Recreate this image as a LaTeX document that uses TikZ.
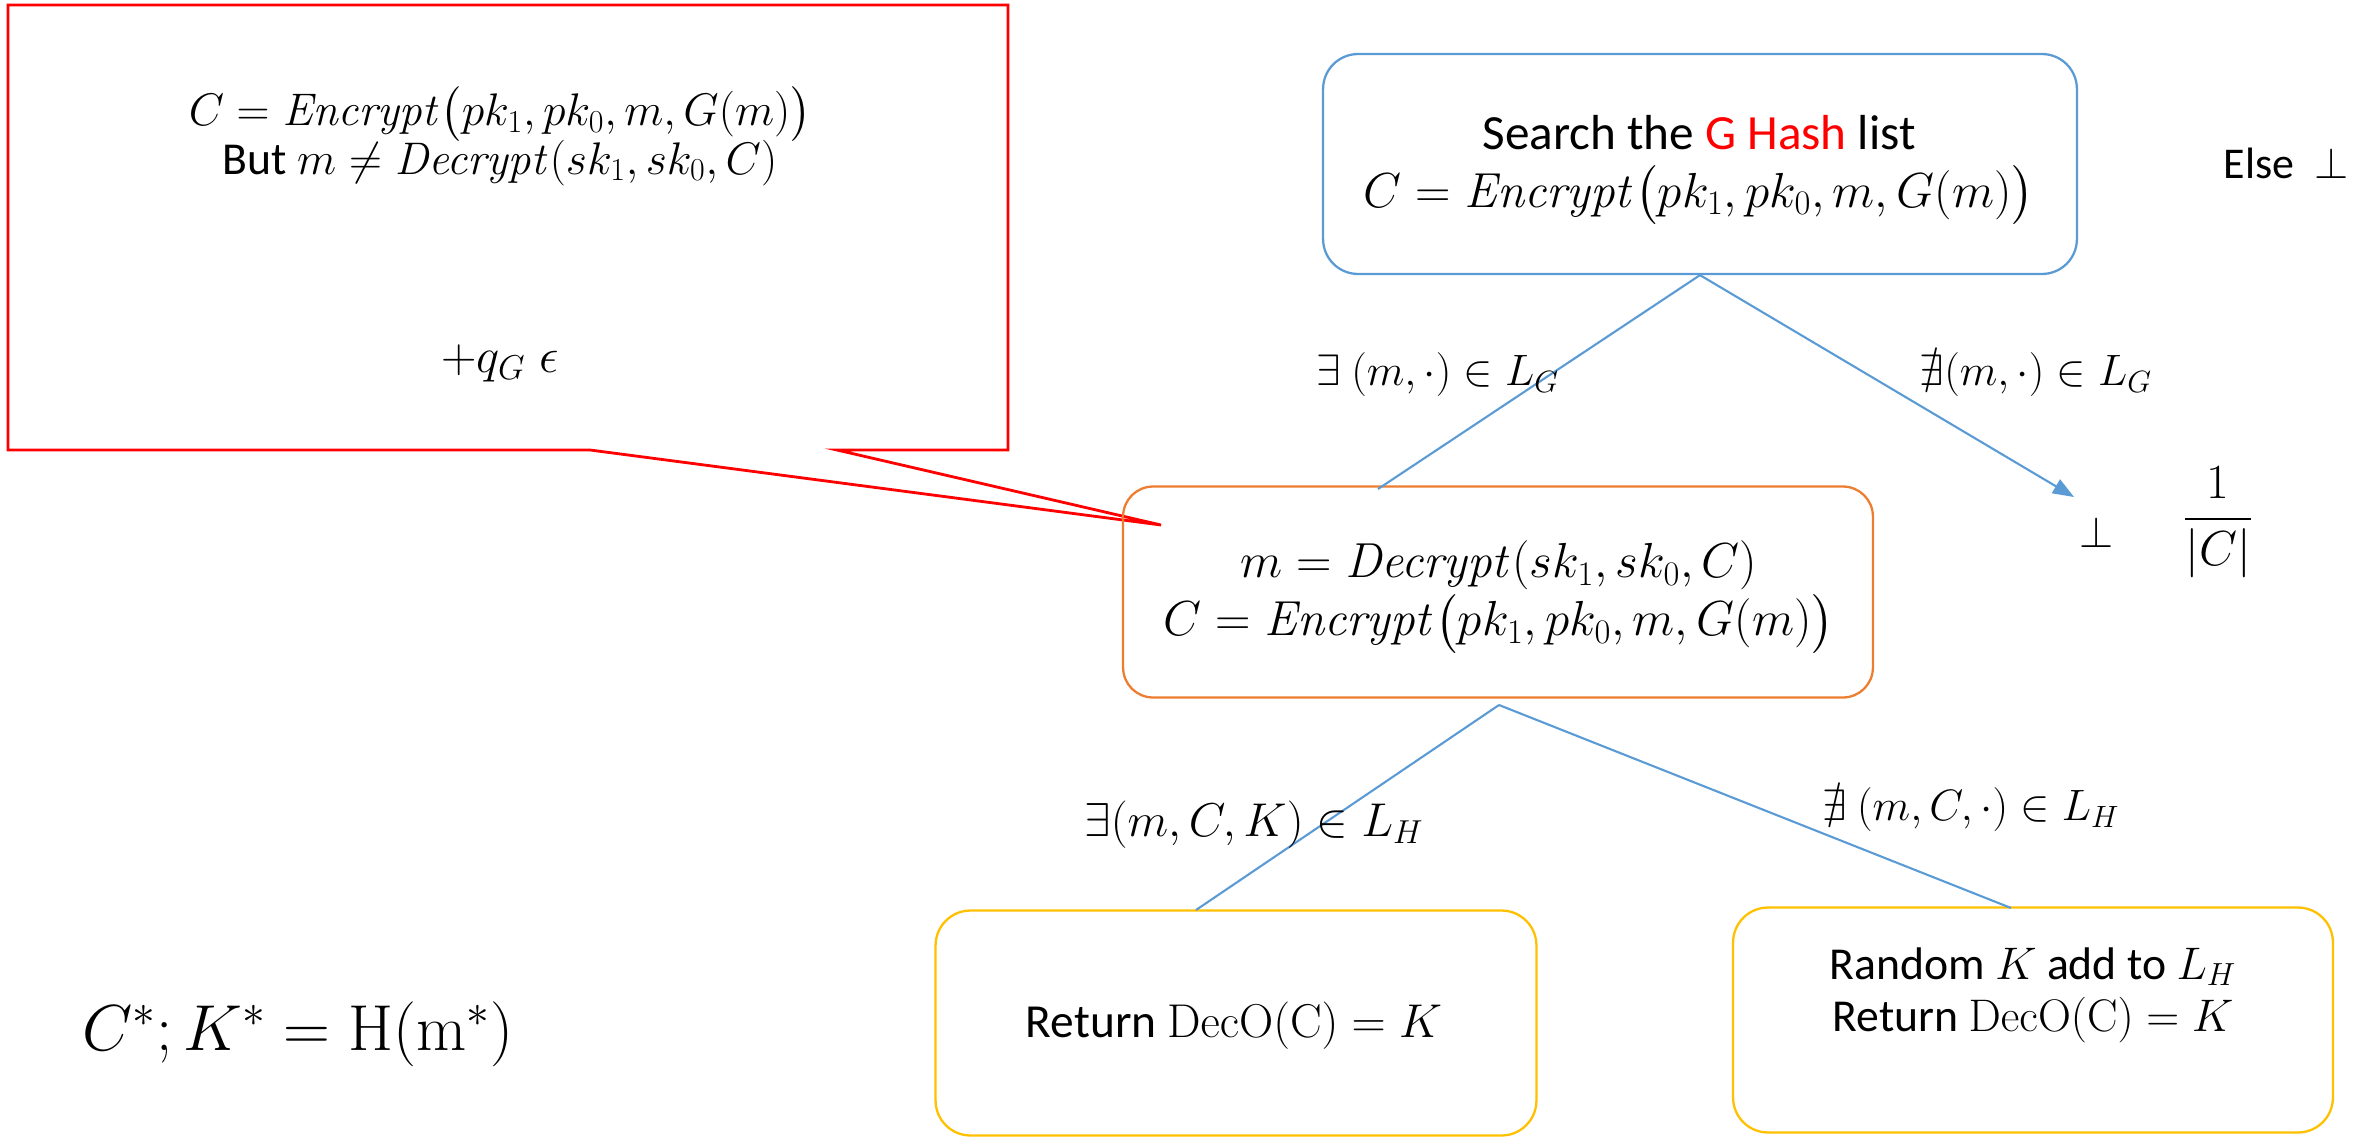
\RequirePackage{fix-cm}
\documentclass[tikz,border=0pt]{standalone}
\usepackage{amsmath,amssymb}
\usepackage[no-math]{fontspec}
\setmainfont{Carlito}
\usetikzlibrary{arrows.meta}
\definecolor{boxblue}{HTML}{5B9BD5}
\definecolor{boxorange}{HTML}{ED7D31}
\definecolor{boxyellow}{HTML}{FFC000}
\definecolor{notered}{HTML}{FF0000}
\newcommand{\Enc}{\mathit{Encrypt}}
\newcommand{\Dec}{\mathit{Decrypt}}
\newcommand{\setfs}[1]{\pgfmathsetmacro\fsline{#1*1.22}\fontsize{#1}{\fsline}\selectfont}
\begin{document}
\begin{tikzpicture}[x=0.02cm,y=-0.02cm,
  box/.style={draw, rounded corners=0.7cm, line width=1.3pt, inner sep=0pt},
  link/.style={draw=boxblue, line width=1.2pt},
  fs/.style={font=\setfs{#1}, align=center, inner sep=0pt}]
\useasboundingbox (0,0) rectangle (2374,1139);

% callout with its pointer
\coordinate (tip) at (1161,525);
\draw[notered, line width=1.6pt, line join=miter]
  (8,5) -- (1008,5) -- (1008,450) -- (837,450) -- (tip) -- (590,450) -- (8,450) -- cycle;
\node[fs=26] (note1) at (500,136) {$C = \Enc\bigl(pk_1, pk_0, m, G(m)\bigr)$\\[-4pt] But $m \neq \Dec(sk_1, sk_0, C)$};
\node[fs=28] (note2) at (500,363) {$+q_G\;\epsilon$};

% decision boxes
\node[box, draw=boxblue, minimum width=15.08cm, minimum height=4.4cm] (search) at (1700,164) {};
\node[fs=28] (searchtxt) at (1699,170)
  {Search the \textcolor{notered}{G Hash} list\\[-1pt] $C = \Enc\bigl(pk_1, pk_0, m, G(m)\bigr)$};
\node[box, draw=boxorange, rounded corners=0.6cm, minimum width=15cm, minimum height=4.22cm] (dec) at (1498,592) {};
\node[fs=28] (dectxt) at (1499,597)
  {$m = \Dec(sk_1, sk_0, C)$\\[-1pt] $C = \Enc\bigl(pk_1, pk_0, m, G(m)\bigr)$};
\node[box, draw=boxyellow, minimum width=12.02cm, minimum height=4.5cm] (ret1) at (1236,1023) {};
\node[fs=27] (ret1txt) at (1234,1026) {Return $\mathrm{DecO(C)} = K$};
\node[box, draw=boxyellow, minimum width=12cm, minimum height=4.5cm] (ret2) at (2033,1020) {};
\node[fs=26] (ret2txt) at (2033,995)
  {Random $K$ add to $L_H$\\[-2pt] Return $\mathrm{DecO(C)} = K$};

% side notes
\node[fs=25] (else) at (2286,163) {Else\ \ $\perp$};
\node[fs=25] (bot) at (2097,532) {$\perp$};
\node[fs=28] (frac) at (2218,522) {$\dfrac{1}{|C|}$};
\node[fs=37] (star) at (298,1034) {$C^*; K^{*} = \mathrm{H}(\mathrm{m}^*)$};

% branches
\coordinate (ltop) at (1378,489);
\coordinate (btip) at (2074,497);
\coordinate (decbot) at (1499,705);
\coordinate (l1end) at (1196,910);
\coordinate (l2end) at (2011,908);
\draw[link] (search.south) -- (ltop);
\draw[link, -{Triangle[length=12pt,width=9pt]}] (search.south) -- (btip);
\draw[link] (decbot) -- (l1end);
\draw[link] (decbot) -- (l2end);

% branch labels
\node[fs=25] (lab1) at (1438,375) {$\exists\ (m,\cdot) \in L_G$};
\node[fs=25] (lab2) at (2036,375) {$\nexists(m,\cdot) \in L_G$};
\node[fs=27] (lab3) at (1254,825) {$\exists(m,C,K) \in L_H$};
\node[fs=25] (lab4) at (1971,810) {$\nexists\ (m,C,\cdot) \in L_H$};
\end{tikzpicture}
\end{document}
